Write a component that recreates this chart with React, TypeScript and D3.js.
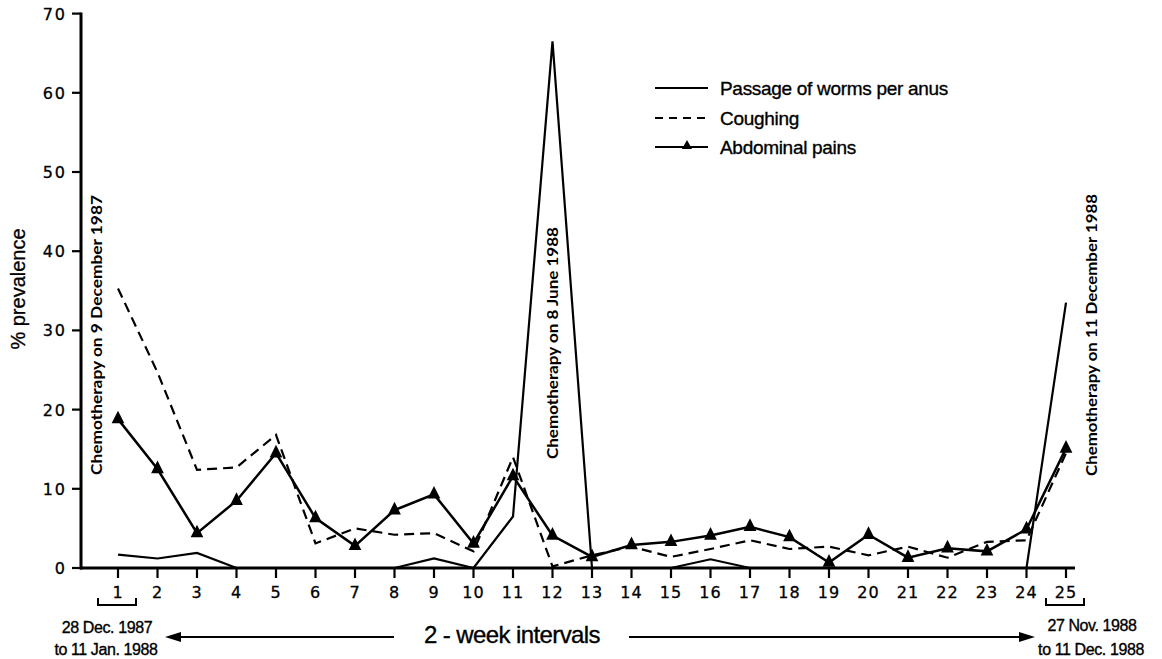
import React, { useEffect, useRef } from "react";
import * as d3 from "d3";

const intervals = [1, 2, 3, 4, 5, 6, 7, 8, 9, 10, 11, 12, 13, 14, 15, 16, 17, 18, 19, 20, 21, 22, 23, 24, 25];
const worms = [1.7, 1.2, 1.9, 0, 0, 0, 0, 0, 1.2, 0, 6.5, 66.5, 0, 0, 0, 1.1, 0, 0, 0, 0, 0, 0, 0, 0, 33.5];
const coughing = [35.3, 24.7, 12.4, 12.7, 16.8, 3.1, 5.0, 4.2, 4.4, 2.1, 14.0, 0.2, 1.6, 2.7, 1.4, 2.4, 3.5, 2.4, 2.7, 1.6, 2.7, 1.3, 3.3, 3.5, 14.5];
const abdominal = [18.8, 12.5, 4.4, 8.5, 14.5, 6.3, 2.8, 7.3, 9.3, 3.1, 11.6, 4.1, 1.4, 2.9, 3.3, 4.1, 5.2, 3.9, 0.7, 4.2, 1.3, 2.5, 2.1, 4.9, 15.1];
const yTicks = [0, 10, 20, 30, 40, 50, 60, 70];
const legendLabels = ["Passage of worms per anus", "Coughing", "Abdominal pains"];
const chemoLabels = [
  { at: 1, text: "Chemotherapy on 9 December 1987" },
  { at: 12, text: "Chemotherapy on 8 June 1988" },
  { at: 25, text: "Chemotherapy on 11 December 1988" },
];

export default function App() {
  const ref = useRef<SVGSVGElement>(null);

  useEffect(() => {
    const svg = d3.select(ref.current);
    svg.selectAll("*").remove();

    const x = d3.scaleLinear().domain([1, 25]).range([118, 1066]);
    const y = d3.scaleLinear().domain([0, 70]).range([568, 13.6]);
    const ink = "#000";
    const tickFont = "'DejaVu Sans', sans-serif";
    const sansFont = "'Liberation Sans', Arial, sans-serif";

    // axes
    const yAxis = svg.append("g").attr("transform", "translate(81,0)");
    yAxis.append("line").attr("x1", 0).attr("x2", 0).attr("y1", y(70) - 1).attr("y2", y(0) + 1.5)
      .attr("stroke", ink).attr("stroke-width", 3);
    yTicks.forEach((t) => {
      yAxis.append("line").attr("x1", -9).attr("x2", 0).attr("y1", y(t)).attr("y2", y(t))
        .attr("stroke", ink).attr("stroke-width", 2.2);
      yAxis.append("text").attr("x", -14).attr("y", y(t) + 6).attr("text-anchor", "end")
        .attr("font-family", tickFont).attr("font-size", 16).attr("letter-spacing", 2)
        .attr("stroke", ink).attr("stroke-width", 0.3)
        .attr("fill", ink).text(String(t));
    });

    const xAxis = svg.append("g");
    xAxis.append("line").attr("x1", 80).attr("x2", 1075).attr("y1", y(0)).attr("y2", y(0))
      .attr("stroke", ink).attr("stroke-width", 3);
    intervals.forEach((t) => {
      xAxis.append("line").attr("x1", x(t)).attr("x2", x(t)).attr("y1", y(0)).attr("y2", y(0) + 10)
        .attr("stroke", ink).attr("stroke-width", 2.2);
      xAxis.append("text").attr("x", x(t)).attr("y", 598).attr("text-anchor", "middle")
        .attr("font-family", tickFont).attr("font-size", 16).attr("letter-spacing", 1)
        .attr("stroke", ink).attr("stroke-width", 0.3)
        .attr("fill", ink).text(String(t));
    });

    // brackets under 1 and 25
    [1, 25].forEach((t) => {
      const x0 = x(t) - 20, x1 = x(t) + 18;
      svg.append("path").attr("d", `M${x0},598 V605 H${x1} V598`)
        .attr("fill", "none").attr("stroke", ink).attr("stroke-width", 2);
    });

    // y label
    svg.append("text").attr("transform", "translate(25,289) rotate(-90)").attr("text-anchor", "middle")
      .attr("font-family", sansFont).attr("font-size", 20).attr("stroke", ink).attr("stroke-width", 0.3)
      .attr("fill", ink).text("% prevalence");

    // chemo labels
    const chemoX: Record<number, number> = { 1: 97, 12: 553, 25: 1092 };
    const chemoY: Record<number, [number, number]> = { 1: [195, 475], 12: [227, 459], 25: [194, 476] };
    chemoLabels.forEach((c) => {
      const [top, bot] = chemoY[c.at];
      svg.append("text").attr("transform", `translate(${chemoX[c.at] + 5},${(top + bot) / 2}) rotate(-90)`)
        .attr("text-anchor", "middle").attr("font-family", "Lato, 'DejaVu Sans', sans-serif")
        .attr("font-weight", "bold").attr("font-size", 15)
        .attr("textLength", bot - top).attr("lengthAdjust", "spacingAndGlyphs")
        .attr("fill", ink).text(c.text);
    });

    // series
    const line = d3.line<number>().x((_, i) => x(intervals[i])).y((d) => y(d));
    svg.append("path").attr("d", line(worms)).attr("fill", "none").attr("stroke", ink)
      .attr("stroke-width", 2.2).attr("stroke-linejoin", "miter");
    svg.append("path").attr("d", line(coughing)).attr("fill", "none").attr("stroke", ink)
      .attr("stroke-width", 2.2).attr("stroke-dasharray", "10,6");
    svg.append("path").attr("d", line(abdominal)).attr("fill", "none").attr("stroke", ink)
      .attr("stroke-width", 2.5);
    const tri = d3.symbol().type(d3.symbolTriangle).size(70);
    svg.selectAll("path.tri").data(abdominal).enter().append("path").attr("class", "tri")
      .attr("d", tri()).attr("fill", ink)
      .attr("transform", (d, i) => `translate(${x(intervals[i])},${y(d)}) scale(1,1.15)`);

    // legend
    const lg = svg.append("g");
    const ly = [88, 118, 147];
    lg.append("line").attr("x1", 655).attr("x2", 708).attr("y1", ly[0]).attr("y2", ly[0])
      .attr("stroke", ink).attr("stroke-width", 2.2);
    lg.append("line").attr("x1", 655).attr("x2", 708).attr("y1", ly[1]).attr("y2", ly[1])
      .attr("stroke", ink).attr("stroke-width", 2.2).attr("stroke-dasharray", "8,6");
    lg.append("line").attr("x1", 655).attr("x2", 708).attr("y1", ly[2]).attr("y2", ly[2])
      .attr("stroke", ink).attr("stroke-width", 2.2);
    lg.append("path").attr("d", d3.symbol().type(d3.symbolTriangle).size(45)())
      .attr("transform", `translate(687,${ly[2] - 1})`).attr("fill", ink);
    legendLabels.forEach((l, i) => {
      lg.append("text").attr("x", 720).attr("y", ly[i] + 6.5).attr("font-family", sansFont)
        .attr("font-size", 19).attr("letter-spacing", -0.3).attr("stroke", ink).attr("stroke-width", 0.35)
        .attr("fill", ink).text(l);
    });

    // bottom annotation
    const bt = svg.append("g").attr("font-family", sansFont).attr("fill", ink)
      .attr("stroke-width", 0);
    const addText = (tx: number, ty: number, size: number, ls: number, s: string) =>
      bt.append("text").attr("x", tx).attr("y", ty).attr("text-anchor", "middle").attr("font-size", size)
        .attr("letter-spacing", ls).attr("stroke", ink).attr("stroke-width", 0.35).text(s);
    addText(107, 633, 16, -0.4, "28 Dec. 1987");
    addText(106, 655, 16, -0.4, "to 11 Jan. 1988");
    addText(1092, 631, 16, -0.4, "27 Nov. 1988");
    addText(1091, 655, 16, -0.4, "to 11 Dec. 1988");
    addText(512, 643, 24, -0.6, "2 - week intervals");
    bt.append("line").attr("x1", 176).attr("x2", 394).attr("y1", 637).attr("y2", 637)
      .attr("stroke", ink).attr("stroke-width", 2);
    bt.append("path").attr("d", "M165,637 L181,632 L181,642 Z").attr("fill", ink);
    bt.append("line").attr("x1", 629).attr("x2", 1024).attr("y1", 637).attr("y2", 637)
      .attr("stroke", ink).attr("stroke-width", 2);
    bt.append("path").attr("d", "M1035,637 L1019,632 L1019,642 Z").attr("fill", ink);
  }, []);

  return (
    <svg ref={ref} width={1162} height={659}
      style={{ position: "absolute", left: 0, top: 0, background: "#fff" }} />
  );
}
